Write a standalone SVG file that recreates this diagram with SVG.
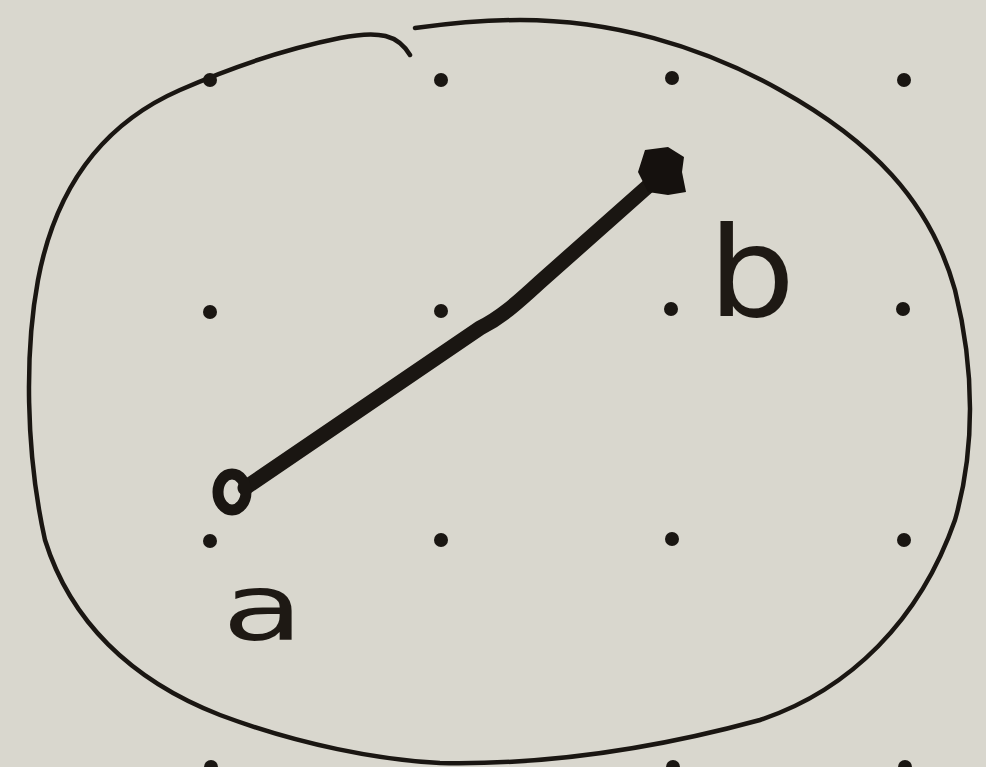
<svg xmlns="http://www.w3.org/2000/svg" width="986" height="767" viewBox="0 0 986 767">
<style>
.dot{fill:#1a1612}
.ink{fill:none;stroke:#1a1612;stroke-linecap:round;stroke-linejoin:round}
.lbl{font-family:"DejaVu Sans",sans-serif;fill:#1e1914}
</style>
<rect width="986" height="767" fill="#d9d7ce"/>
<g id="outline">
<path class="ink" stroke-width="4.5" d="M410,55 C398,35 380,30 340,38 C280,50 230,68 180,90 C100,125 55,190 38,280 C25,350 25,450 45,540 C70,620 130,680 220,715 C300,745 380,760 440,763 C540,765 650,750 760,720 C850,690 920,620 955,520 C975,450 975,370 955,290 C930,200 870,140 780,90 C700,45 610,20 520,20 C480,20 445,24 415,28"/>
</g>
<g id="grid">
<circle class="dot" cx="210" cy="80" r="7"/>
<circle class="dot" cx="441" cy="80" r="7"/>
<circle class="dot" cx="672" cy="78" r="7"/>
<circle class="dot" cx="904" cy="80" r="7"/>
<circle class="dot" cx="210" cy="312" r="7"/>
<circle class="dot" cx="441" cy="311" r="7"/>
<circle class="dot" cx="671" cy="309" r="7"/>
<circle class="dot" cx="903" cy="309" r="7"/>
<circle class="dot" cx="210" cy="541" r="7"/>
<circle class="dot" cx="441" cy="540" r="7"/>
<circle class="dot" cx="672" cy="539" r="7"/>
<circle class="dot" cx="904" cy="540" r="7"/>
<circle class="dot" cx="211" cy="767" r="7"/>
<circle class="dot" cx="673" cy="767" r="7"/>
<circle class="dot" cx="905" cy="767" r="7"/>
</g>
<g id="connectors">
<path class="ink" stroke-width="15" d="M245,488 L480,328 C500,318 515,305 540,282 L655,180"/>
</g>
<g id="a">
<ellipse class="ink" stroke-width="11" cx="232" cy="492" rx="14" ry="18"/>
<text class="lbl" x="0" y="0" font-size="92" transform="translate(222,640) scale(1.45,1)">a</text>
</g>
<g id="b">
<path fill="#15110e" d="M645,150 L668,147 L684,157 L682,172 L686,192 L668,195 L648,192 L638,172 Z"/>
<text class="lbl" x="0" y="0" font-size="125" transform="translate(708,316) scale(1.1,1)">b</text>
</g>
</svg>
